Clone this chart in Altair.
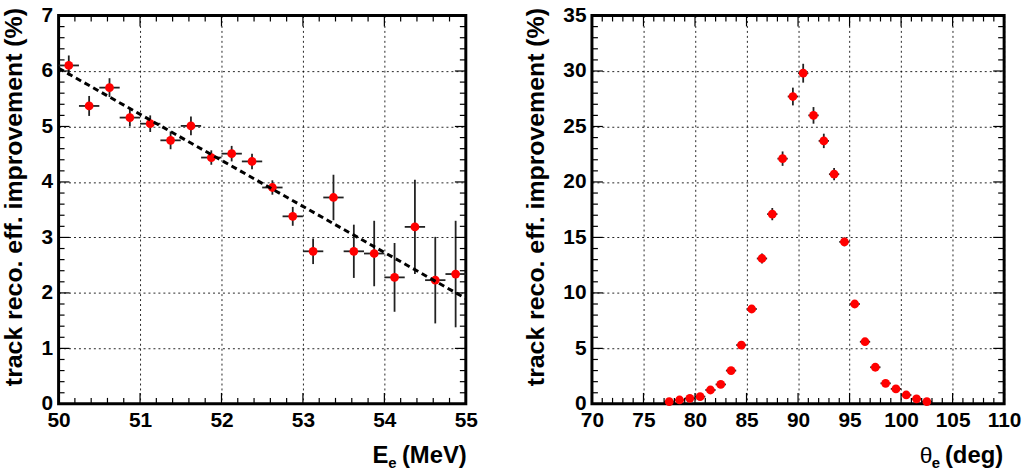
import altair as alt
import pandas as pd

FONT = "Liberation Sans"

# ---- left panel: improvement vs electron energy (0.25 MeV bins) ----
e_center = [50.125, 50.375, 50.625, 50.875, 51.125, 51.375, 51.625, 51.875,
            52.125, 52.375, 52.625, 52.875, 53.125, 53.375, 53.625, 53.875,
            54.125, 54.375, 54.625, 54.875]
e_eff = [6.10, 5.37, 5.70, 5.16, 5.05, 4.75, 5.01, 4.44, 4.51, 4.37,
         3.90, 3.38, 2.75, 3.72, 2.75, 2.71, 2.28, 3.19, 2.23, 2.34]
e_err = [0.18, 0.18, 0.17, 0.16, 0.15, 0.16, 0.17, 0.13, 0.14, 0.14,
         0.13, 0.17, 0.23, 0.41, 0.48, 0.59, 0.62, 0.85, 0.78, 0.96]
e_half = 0.125

# linear fit drawn across the full range
fit_e = [50.0, 55.0]
fit_eff = [6.05, 1.90]

# ---- right panel: improvement vs polar angle (1 deg bins) ----
th_center = [77.5, 78.5, 79.5, 80.5, 81.5, 82.5, 83.5, 84.5, 85.5, 86.5,
             87.5, 88.5, 89.5, 90.5, 91.5, 92.5, 93.5, 94.5, 95.5, 96.5,
             97.5, 98.5, 99.5, 100.5, 101.5, 102.5]
th_eff = [0.20, 0.35, 0.50, 0.65, 1.25, 1.75, 3.0, 5.3, 8.55, 13.1,
          17.1, 22.1, 27.7, 29.8, 26.0, 23.7, 20.7, 14.6, 9.0, 5.6,
          3.3, 1.85, 1.35, 0.8, 0.45, 0.2]
th_err = [0.05, 0.07, 0.08, 0.10, 0.13, 0.16, 0.20, 0.25, 0.32, 0.45,
          0.55, 0.65, 0.80, 0.85, 0.75, 0.65, 0.55, 0.40, 0.30, 0.22,
          0.17, 0.12, 0.10, 0.08, 0.06, 0.04]
th_half = 0.5

# ---- axis divisions ----
e_major = [50, 51, 52, 53, 54, 55]
e_eff_major = [0, 1, 2, 3, 4, 5, 6, 7]
th_major = [70, 75, 80, 85, 90, 95, 100, 105, 110]
th_eff_major = [0, 5, 10, 15, 20, 25, 30, 35]

H = 391
W_LEFT = 410
W_RIGHT = 415
MAJOR_LEN = 11
MINOR_LEN = 6


def subdivide(major, n):
    """Minor tick positions: n equal steps between consecutive majors."""
    out = []
    for a, b in zip(major[:-1], major[1:]):
        step = (b - a) / n
        out += [round(a + i * step, 6) for i in range(1, n)]
    return out


def axis(values, title=None, **kw):
    opts = dict(values=values, labelFont=FONT, labelFontSize=21, labelFontWeight="bold",
                labelColor="black", labelFlush=False, labelOverlap=False,
                ticks=False, domain=False, grid=True, gridDash=[2, 3],
                gridColor="black", gridWidth=1, gridOpacity=0.85)
    if title is not None:
        opts.update(title=title, titleFont=FONT, titleFontSize=25, titleFontWeight="bold",
                    titleColor="black", titleAngle=270, titleAlign="right",
                    titleBaseline="bottom")
    else:
        opts.update(title=None)
    opts.update(kw)
    return alt.Axis(**opts)


def text_at(txt, x, y, size, weight="bold", align="left"):
    return alt.Chart(alt.Data(values=[{}])).mark_text(
        text=txt, font=FONT, fontSize=size, fontWeight=weight, align=align,
        baseline="alphabetic", color="black").encode(x=alt.value(x), y=alt.value(y))


def panel(xc, yv, ye, half, xmaj, xn, ymaj, yn, W, ytitle_x, extra):
    sx = alt.Scale(domain=[xmaj[0], xmaj[-1]], nice=False, zero=False)
    sy = alt.Scale(domain=[ymaj[0], ymaj[-1]], nice=False, zero=False)
    ax_x = axis(xmaj, labelPadding=6)
    ax_y = axis(ymaj, title="track reco. eff. improvement (%)", labelPadding=6,
                titleX=ytitle_x, titleY=-8)

    def X(f):
        return alt.X(f, scale=sx, axis=ax_x)

    def Y(f):
        return alt.Y(f, scale=sy, axis=ax_y)

    df = pd.DataFrame({"x": xc, "y": yv, "err": ye})
    df["ylo"] = df["y"] - df["err"]
    df["yhi"] = df["y"] + df["err"]
    df["xlo"] = df["x"] - half
    df["xhi"] = df["x"] + half

    # inward ticks on all four sides of the frame
    ticks = []
    for vals, ln in ((xmaj, MAJOR_LEN), (subdivide(xmaj, xn), MINOR_LEN)):
        d = alt.Chart(pd.DataFrame({"v": vals}))
        ticks.append(d.mark_rule(color="black", strokeWidth=1.2).encode(
            x=X("v:Q"), y=alt.value(H), y2=alt.value(H - ln)))
        ticks.append(d.mark_rule(color="black", strokeWidth=1.2).encode(
            x=X("v:Q"), y=alt.value(0), y2=alt.value(ln)))
    for vals, ln in ((ymaj, MAJOR_LEN), (subdivide(ymaj, yn), MINOR_LEN)):
        d = alt.Chart(pd.DataFrame({"v": vals}))
        ticks.append(d.mark_rule(color="black", strokeWidth=1.2).encode(
            y=Y("v:Q"), x=alt.value(0), x2=alt.value(ln)))
        ticks.append(d.mark_rule(color="black", strokeWidth=1.2).encode(
            y=Y("v:Q"), x=alt.value(W), x2=alt.value(W - ln)))

    base = alt.Chart(df)
    vbar = base.mark_rule(color="#222222", strokeWidth=1.8).encode(
        x=X("x:Q"), y=Y("ylo:Q"), y2="yhi:Q")
    hbar = base.mark_rule(color="#222222", strokeWidth=1.8).encode(
        x=X("xlo:Q"), x2="xhi:Q", y=Y("y:Q"))
    pts = base.mark_circle(size=78, color="#ff0000", opacity=1).encode(
        x=X("x:Q"), y=Y("y:Q"))

    layers = [vbar, hbar, pts] + ticks + extra(X, Y)
    return alt.layer(*layers).properties(width=W, height=H)


def left_extra(X, Y):
    fit = pd.DataFrame({"x": fit_e, "y": fit_eff})
    line = alt.Chart(fit).mark_line(color="black", strokeWidth=3, strokeDash=[6, 4]).encode(
        x=X("x:Q"), y=Y("y:Q"))
    return [line,
            text_at("(MeV)", 411, 451, 24, align="right"),
            text_at("E", 316, 451, 24),
            text_at("e", 332, 456, 15)]


def right_extra(X, Y):
    return [text_at("(deg)", 414, 451, 24, align="right"),
            text_at("θ", 330, 451, 23, weight="normal"),
            text_at("e", 342, 456, 15)]


left = panel(e_center, e_eff, e_err, e_half, e_major, 5, e_eff_major, 5,
             W_LEFT, -32, left_extra)
right = panel(th_center, th_eff, th_err, th_half, th_major, 5, th_eff_major, 5,
              W_RIGHT, -44, right_extra)

chart = alt.hconcat(left, right, spacing=127, bounds="flush").properties(
    padding={"left": 0, "top": 1, "right": 0, "bottom": 0},
    background="white",
).configure_view(stroke="black", strokeWidth=3)

chart.save("out.html", embed_options={"renderer": "svg", "actions": False})
